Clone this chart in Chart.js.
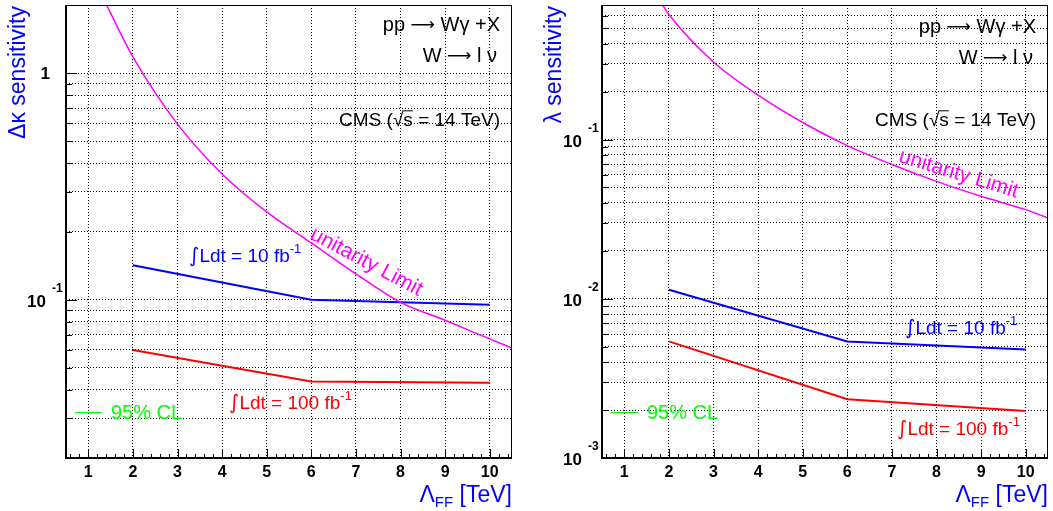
<!DOCTYPE html>
<html>
<head>
<meta charset="utf-8">
<script src="https://cdn.jsdelivr.net/npm/chart.js@4.4.0/dist/chart.umd.min.js"></script>
<style>
  html, body { margin: 0; padding: 0; background: #fff; }
  #wrap { position: relative; width: 1053px; height: 511px; }
  canvas { position: absolute; top: 0; }
</style>
</head>
<body>
<div id="wrap">
  <canvas id="kappaChart" width="526" height="511" style="left:0"></canvas>
  <canvas id="lambdaChart" width="527" height="511" style="left:526px"></canvas>
</div>
<script>
// Lambda_FF values (TeV) where the sensitivity was computed
const lumiX = [2, 6, 10];

// delta kappa sensitivity (left)
const kappa10fb = [0.142, 0.100, 0.095];
const kappa100fb = [0.060, 0.0435, 0.043];
const kappaUnitX = [1.41, 1.5, 2, 3, 4, 5, 6, 7, 8, 9, 10, 10.5];
const kappaUnit = [2.0, 1.84, 1.18, 0.596, 0.359, 0.244, 0.178, 0.130, 0.0973, 0.0811, 0.0671, 0.0612];

// lambda sensitivity (right)
const lambda10fb = [0.0114, 0.0054, 0.0048];
const lambda100fb = [0.0054, 0.00234, 0.00197];
const lambdaUnitX = [1.86, 2, 3, 4, 5, 6, 7, 8, 9, 10, 10.5];
const lambdaUnit = [0.70, 0.61, 0.307, 0.190, 0.128, 0.0916, 0.0697, 0.0546, 0.044, 0.0363, 0.0322];

// axis ticks
const xTicks = [1, 2, 3, 4, 5, 6, 7, 8, 9, 10];
const kappaDecades = [0.01, 0.1, 1];
const lambdaDecades = [0.001, 0.01, 0.1];
const kappaLabels = [{ v: 0.1, exp: '-1' }, { v: 1, base: '1' }];
const lambdaLabels = [{ v: 0.001, exp: '-3' }, { v: 0.01, exp: '-2' }, { v: 0.1, exp: '-1' }];

const FONT = '"Liberation Sans", Arial, Helvetica, sans-serif';
const SYM = '"DejaVu Sans", sans-serif';
const BLUE = '#0000ff', RED = '#ff0000', MAGENTA = '#ff00ff', GREEN = '#00ff00';

function minorTicks(decades, min, max) {
  const out = [];
  decades.forEach(d => {
    for (let m = 1; m <= 9; m++) {
      const v = +(d * m).toPrecision(3);
      if (v >= min && v <= max) out.push(v);
    }
  });
  return out;
}

function fontOf(p) {
  return (p.bold ? 'bold ' : '') + p.size + 'px ' + (p.sym ? SYM : FONT);
}

function richText(ctx, parts, x, y, align, color) {
  let total = 0;
  const widths = parts.map(p => {
    ctx.font = fontOf(p);
    const w = ctx.measureText(p.t).width;
    total += w + (p.gap || 0);
    return w;
  });
  let cx = align === 'right' ? x - total : align === 'center' ? x - total / 2 : x;
  ctx.fillStyle = color;
  ctx.strokeStyle = color;
  ctx.textAlign = 'left';
  ctx.textBaseline = 'alphabetic';
  parts.forEach((p, i) => {
    ctx.font = fontOf(p);
    cx += p.gap || 0;
    ctx.fillText(p.t, cx, y + (p.dy || 0));
    if (p.over) {
      ctx.lineWidth = 1;
      ctx.beginPath();
      ctx.moveTo(cx - 1, y - p.size * 0.8);
      ctx.lineTo(cx + widths[i], y - p.size * 0.8);
      ctx.stroke();
    }
    cx += widths[i];
  });
}

// ROOT-like frame, tick marks, labels and annotations
const rootStyle = {
  id: 'rootStyle',
  afterDraw(chart, args, o) {
    const { ctx, chartArea: a, scales: { x, y } } = chart;
    ctx.save();
    ctx.strokeStyle = '#000';
    ctx.lineWidth = 1;
    ctx.beginPath();
    for (let i = 3; i <= 52; i++) {
      const px = Math.round(x.getPixelForValue(i / 5)) + 0.5;
      const len = i % 5 === 0 ? 9 : 4;
      ctx.moveTo(px, a.bottom);
      ctx.lineTo(px, a.bottom - len);
    }
    o.yTicks.forEach(v => {
      const py = Math.round(y.getPixelForValue(v)) + 0.5;
      const major = Math.abs(Math.log10(v) - Math.round(Math.log10(v))) < 1e-6;
      ctx.moveTo(a.left, py);
      ctx.lineTo(a.left + (major ? 11 : 6), py);
    });
    ctx.stroke();

    // frame
    ctx.strokeRect(a.left + 0.5, a.top + 0.5, a.right - a.left - 1, a.bottom - a.top - 1);
    ctx.lineWidth = 2;
    ctx.beginPath();
    ctx.moveTo(a.left, a.top);
    ctx.lineTo(a.left, a.bottom);
    ctx.lineTo(a.right, a.bottom);
    ctx.stroke();

    // y labels
    o.yLabels.forEach(l => {
      const py = y.getPixelForValue(l.v);
      if (l.base) {
        richText(ctx, [{ t: l.base, size: 17, bold: true }], a.left - 16, py + 6, 'right', '#000');
      } else {
        richText(ctx, [{ t: '10', size: 17, bold: true }], a.left - 20, py + 7, 'right', '#000');
        richText(ctx, [{ t: l.exp, size: 12, bold: true }], a.left - 14, py - 8, 'left', '#000');
      }
    });

    // axis titles
    ctx.save();
    ctx.translate(o.yTitleX, a.top + 1);
    ctx.rotate(-Math.PI / 2);
    richText(ctx, [{ t: o.yTitle, size: 23 }], 0, 0, 'right', BLUE);
    ctx.restore();
    richText(ctx, [{ t: 'Λ', size: 23 }, { t: 'FF', size: 15, dy: 5 }, { t: ' [TeV]', size: 23 }],
      a.right, 502, 'right', BLUE);

    // annotations
    o.texts.forEach(t => {
      if (t.angle) {
        ctx.save();
        ctx.translate(t.x, t.y);
        ctx.rotate(t.angle * Math.PI / 180);
        richText(ctx, t.parts, 0, 7, 'center', t.color);
        ctx.restore();
      } else {
        richText(ctx, t.parts, t.x, t.y, t.align || 'left', t.color);
      }
    });

    // 95% CL key
    ctx.strokeStyle = GREEN;
    ctx.lineWidth = 1;
    ctx.beginPath();
    ctx.moveTo(o.clX, 412.5);
    ctx.lineTo(o.clX + 27, 412.5);
    ctx.stroke();
    richText(ctx, [{ t: '95% CL', size: 20 }], o.clX + 36, 419, 'left', GREEN);
    ctx.restore();
  }
};

function header(right, offs) {
  return [
    { parts: [{ t: 'pp ', size: 20 }, { t: '⟶', size: 17, sym: true, dy: -1 }, { t: ' Wγ +X', size: 20 }],
      x: right, y: 31 + offs, align: 'right', color: '#000' },
    { parts: [{ t: 'W ', size: 20 }, { t: '⟶', size: 17, sym: true, dy: -1 }, { t: ' l ν', size: 20 }],
      x: right - 3, y: 62 + offs, align: 'right', color: '#000' },
    { parts: [{ t: 'CMS (', size: 19 }, { t: '√', size: 19 }, { t: 's', size: 19, over: true },
      { t: ' = 14 TeV)', size: 19 }], x: right, y: 126, align: 'right', color: '#000' }
  ];
}

function lumi(text) {
  return [{ t: '∫', size: 20, sym: true }, { t: 'Ldt = ' + text + ' fb', size: 19 }, { t: '-1', size: 13, dy: -9 }];
}

function makeChart(id, cfg) {
  const yTicks = minorTicks(cfg.decades, cfg.yMin, cfg.yMax);
  const pts = (xs, ys) => xs.map((v, i) => ({ x: v, y: ys[i] }));
  return new Chart(document.getElementById(id), {
    type: 'line',
    data: {
      datasets: [
        { data: pts(cfg.unitX, cfg.unit), borderColor: MAGENTA, borderWidth: 1.5, cubicInterpolationMode: 'monotone' },
        { data: pts(lumiX, cfg.low), borderColor: BLUE, borderWidth: 2, tension: 0 },
        { data: pts(lumiX, cfg.high), borderColor: RED, borderWidth: 2, tension: 0 }
      ]
    },
    options: {
      responsive: false,
      animation: false,
      devicePixelRatio: 1,
      layout: { padding: { left: 0, top: 5, right: cfg.padRight, bottom: 0 } },
      elements: { point: { radius: 0 } },
      plugins: {
        legend: { display: false },
        tooltip: { enabled: false },
        rootStyle: {
          yTicks: yTicks, yLabels: cfg.labels, yTitle: cfg.yTitle, yTitleX: cfg.yTitleX,
          texts: cfg.texts, clX: cfg.clX
        }
      },
      scales: {
        x: {
          type: 'linear', min: 0.5, max: 10.5,
          afterBuildTicks: s => { s.ticks = xTicks.map(v => ({ value: v })); },
          afterFit: s => { s.height = 53; },
          grid: { color: '#000', lineWidth: 1, drawTicks: false },
          border: { display: false, dash: [1, 2] },
          ticks: { color: '#000', font: { family: FONT, size: 16, weight: 'bold' }, padding: 5, maxRotation: 0, autoSkip: false }
        },
        y: {
          type: 'logarithmic', min: cfg.yMin, max: cfg.yMax,
          afterBuildTicks: s => { s.ticks = yTicks.map(v => ({ value: v })); },
          afterFit: s => { s.width = cfg.axisW; },
          grid: { color: '#000', lineWidth: 1, drawTicks: false },
          border: { display: false, dash: [1, 2] },
          ticks: { display: false }
        }
      }
    },
    plugins: [rootStyle]
  });
}

makeChart('kappaChart', {
  unitX: kappaUnitX, unit: kappaUnit, low: kappa10fb, high: kappa100fb,
  decades: kappaDecades, yMin: 0.02, yMax: 2, labels: kappaLabels,
  padRight: 14, axisW: 66, yTitle: 'Δκ sensitivity', yTitleX: 25, clX: 75,
  texts: header(500, 0).concat([
    { parts: [{ t: 'unitarity Limit', size: 21 }], x: 367, y: 261, angle: 28, color: MAGENTA },
    { parts: lumi('10'), x: 189, y: 262, color: BLUE },
    { parts: lumi('100'), x: 229, y: 409, color: RED }
  ])
});

makeChart('lambdaChart', {
  unitX: lambdaUnitX, unit: lambdaUnit, low: lambda10fb, high: lambda100fb,
  decades: lambdaDecades, yMin: 0.001, yMax: 0.7, labels: lambdaLabels,
  padRight: 5, axisW: 76, yTitle: 'λ sensitivity', yTitleX: 35, clX: 85,
  texts: header(510, 2).concat([
    { parts: [{ t: 'unitarity Limit', size: 21 }], x: 433, y: 173, angle: 17, color: MAGENTA },
    { parts: lumi('10'), x: 379, y: 334, color: BLUE },
    { parts: lumi('100'), x: 371, y: 435, color: RED }
  ])
});
</script>
</body>
</html>
